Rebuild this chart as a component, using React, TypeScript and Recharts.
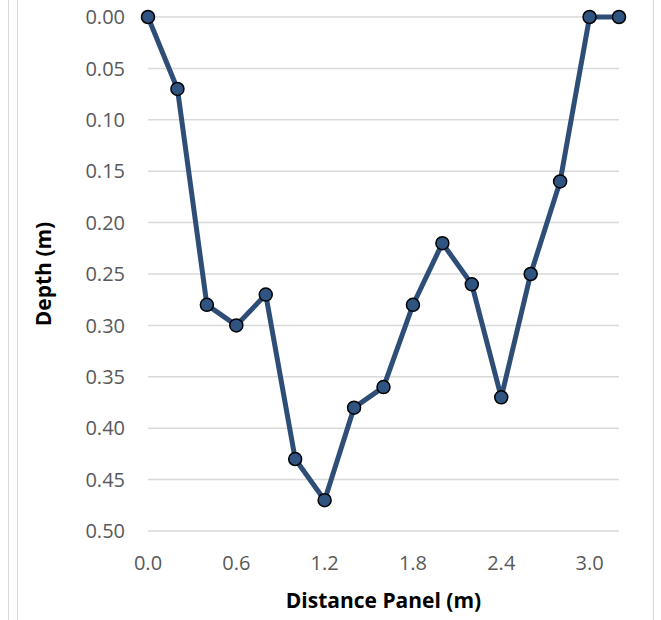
import React from 'react'
import { LineChart, Line, XAxis, YAxis, CartesianGrid } from 'recharts'

const distance = [0, 0.2, 0.4, 0.6, 0.8, 1.0, 1.2, 1.4, 1.6, 1.8, 2.0, 2.2, 2.4, 2.6, 2.8, 3.0, 3.2]
const depth = [0.0, 0.07, 0.28, 0.3, 0.27, 0.43, 0.47, 0.38, 0.36, 0.28, 0.22, 0.26, 0.37, 0.25, 0.16, 0.0, 0.0]
const xTicks = [0, 0.6, 1.2, 1.8, 2.4, 3.0]
const yTicks = [0, 0.05, 0.1, 0.15, 0.2, 0.25, 0.3, 0.35, 0.4, 0.45, 0.5]

const data = distance.map((d, i) => ({ distance: d, depth: depth[i] }))

const font = '"Open Sans", "Liberation Sans", sans-serif'
const tickStyle = { fill: '#595959', fontSize: 20, fontFamily: font }

export default function App() {
  return (
    <div style={{ position: 'fixed', left: 0, top: 0, width: 661, height: 620, background: '#fff' }}>
      <div style={{ position: 'absolute', left: 8, top: 0, width: 1, height: 620, background: '#d9d9d9' }} />
      <div style={{ position: 'absolute', left: 17, top: 0, width: 1, height: 620, background: '#d9d9d9' }} />
      <div style={{ position: 'absolute', left: 653, top: 0, width: 1, height: 620, background: '#d9d9d9' }} />
      <LineChart
        width={661}
        height={620}
        data={data}
        margin={{ top: 17, right: 42, left: 0, bottom: 0 }}
        style={{ position: 'absolute', left: 0, top: 0 }}
      >
        <CartesianGrid vertical={false} stroke="#d9d9d9" strokeWidth={1.5} />
        <XAxis
          dataKey="distance"
          type="number"
          domain={[0, 3.2]}
          ticks={xTicks}
          tickFormatter={(v: number) => v.toFixed(1)}
          axisLine={false}
          tickLine={false}
          tickMargin={19}
          height={89}
          tick={tickStyle}
          label={{
            value: 'Distance Panel (m)',
            position: 'insideBottom',
            offset: 12,
            style: { fill: '#000', fontSize: 21, fontWeight: 700, fontFamily: font },
          }}
        />
        <YAxis
          dataKey="depth"
          type="number"
          reversed
          domain={[0, 0.5]}
          ticks={yTicks}
          tickFormatter={(v: number) => v.toFixed(2)}
          axisLine={false}
          tickLine={false}
          tickMargin={17}
          width={148}
          tick={tickStyle}
          label={{
            value: 'Depth (m)',
            angle: -90,
            position: 'insideLeft',
            offset: 44,
            style: { textAnchor: 'middle', fill: '#000', fontSize: 21, fontWeight: 700, fontFamily: font },
          }}
        />
        <Line
          type="linear"
          dataKey="depth"
          stroke="#2f4e77"
          strokeWidth={5}
          dot={{ r: 6.5, fill: '#2f5482', stroke: '#000', strokeWidth: 1.5 }}
          isAnimationActive={false}
        />
      </LineChart>
    </div>
  )
}
